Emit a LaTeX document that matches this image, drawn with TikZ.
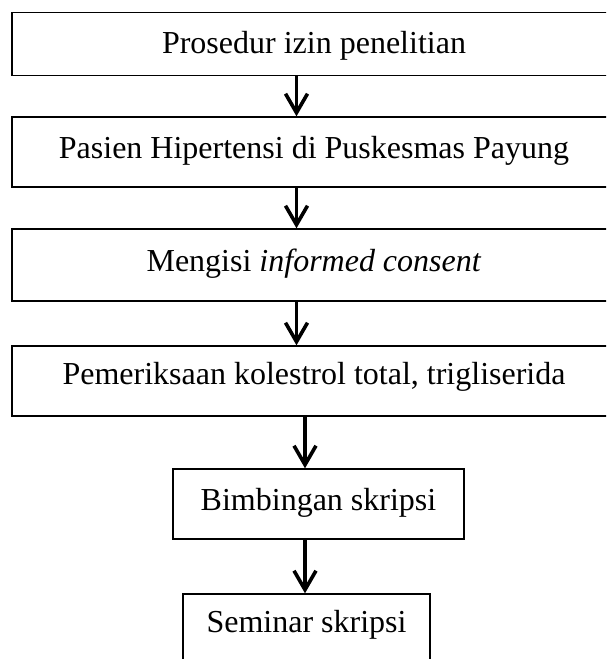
\documentclass[tikz,border=0pt]{standalone}
\usepackage{fontspec}
\setmainfont{Liberation Serif}
\usetikzlibrary{arrows.meta}
\begin{document}
\begin{tikzpicture}[x=1pt,y=-1pt,
  stepbox/.style={draw=black,line width=1.4pt,inner sep=0pt,align=center,anchor=base,
    font=\fontsize{32}{38}\selectfont},
  flowarrow/.style={line width=3.6pt,-{Straight Barb[length=19pt,width=22pt,line width=3.6pt]}}]
\useasboundingbox (0,0) rectangle (606,659);
\clip (0,0) rectangle (606,659);
\node[stepbox,minimum width=604pt,text height=40.3pt,text depth=22.3pt] (b1) at (314,53) {Prosedur izin penelitian};
\node[stepbox,minimum width=604pt,text height=41pt,text depth=29pt] (b2) at (314,158) {Pasien Hipertensi di Puskesmas Payung};
\node[stepbox,minimum width=604pt,text height=42pt,text depth=30pt] (b3) at (314,271) {Mengisi \textit{informed consent}};
\node[stepbox,minimum width=604pt,text height=38pt,text depth=32pt] (b4) at (314,384) {Pemeriksaan kolestrol total, trigliserida};
\node[stepbox,minimum width=291pt,text height=41pt,text depth=29pt] (b5) at (318.5,510) {Bimbingan skripsi};
\node[stepbox,minimum width=247pt,text height=38pt,text depth=32pt] (b6) at (306.5,632) {Seminar skripsi};
\coordinate (ax) at (296.5,0);
\coordinate (bx) at (305,0);
\draw[flowarrow] (b1.south -| ax) -- (b2.north -| ax);
\draw[flowarrow] (b2.south -| ax) -- (b3.north -| ax);
\draw[flowarrow] (b3.south -| ax) -- (b4.north -| ax);
\draw[flowarrow] (b4.south -| bx) -- (b5.north -| bx);
\draw[flowarrow] (b5.south -| bx) -- (b6.north -| bx);
\end{tikzpicture}
\end{document}
